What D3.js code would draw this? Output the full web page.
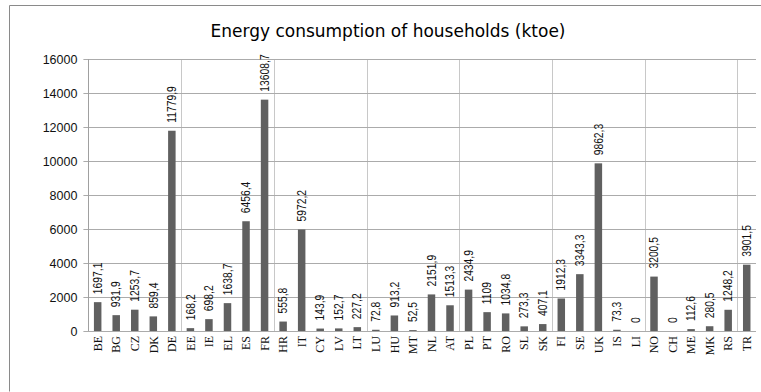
<html>
<head>
<script src="https://cdn.jsdelivr.net/npm/d3@7/dist/d3.min.js"></script>
<style>
  body { margin: 0; background: #fff; }
  .title { font-family: "DejaVu Sans", sans-serif; font-size: 17px; }
  .ylab { font-family: "Liberation Sans", sans-serif; font-size: 12.5px; fill: #111; }
  .xlab { font-family: "Liberation Serif", serif; font-size: 12px; fill: #111; }
  .vlab { font-family: "Liberation Sans", sans-serif; font-size: 12px; fill: #111; }
</style>
</head>
<body>
<svg id="chart"></svg>
<script>
// categories (country codes) and household consumption in ktoe
var countries = ["BE","BG","CZ","DK","DE","EE","IE","EL","ES","FR","HR","IT","CY","LV","LT","LU","HU","MT",
                 "NL","AT","PL","PT","RO","SL","SK","FI","SE","UK","IS","LI","NO","CH","ME","MK","RS","TR"];
var consumption = [1697.1, 931.9, 1253.7, 859.4, 11779.9, 168.2, 698.2, 1638.7, 6456.4, 13608.7, 555.8, 5972.2,
                   143.9, 152.7, 227.2, 72.8, 913.2, 52.5, 2151.9, 1513.3, 2434.9, 1109, 1034.8, 273.3, 407.1,
                   1912.3, 3343.3, 9862.3, 73.3, 0, 3200.5, 0, 112.6, 280.5, 1248.2, 3901.5];
var yTicks = [0, 2000, 4000, 6000, 8000, 10000, 12000, 14000, 16000];

var W = 761, H = 392;
// plot area edges
var pL = 88.4, pR = 756, pT = 59, pB = 331;

var svg = d3.select("#chart").attr("width", W).attr("height", H);

// outer frame
svg.append("path")
   .attr("d", "M9.5,391.5 V5.5 H761")
   .attr("fill", "none").attr("stroke", "#8a8a8a");

svg.append("text")
   .attr("class", "title")
   .attr("x", 388).attr("y", 37)
   .attr("text-anchor", "middle")
   .text("Energy consumption of households (ktoe)");

var x = d3.scaleBand().domain(countries).range([pL, pR]);
var y = d3.scaleLinear().domain([0, 16000]).range([pB, pT]);

// vertical grid every five categories
var vg = countries.filter(function (d, i) { return i > 0 && i % 5 === 0; });
svg.append("g").selectAll("line").data(vg).enter().append("line")
   .attr("x1", function (d) { return Math.round(x(d)) + 0.5; })
   .attr("x2", function (d) { return Math.round(x(d)) + 0.5; })
   .attr("y1", pT).attr("y2", pB)
   .attr("stroke", "#c8c8c8");

// horizontal grid + y axis
var yAxis = d3.axisLeft(y).tickValues(yTicks).tickSize(-(pR - pL + 5)).tickFormat(d3.format("d"));
var gy = svg.append("g")
   .attr("transform", "translate(" + (pL - 5) + ",0)")
   .call(yAxis);
gy.select(".domain").remove();
gy.selectAll(".tick line").attr("stroke", "#ababab");
gy.selectAll(".tick text").attr("class", "ylab").attr("x", -6).attr("dy", "0.35em");
svg.append("line")
   .attr("x1", Math.round(pL) + 0.5).attr("x2", Math.round(pL) + 0.5)
   .attr("y1", pT).attr("y2", pB)
   .attr("stroke", "#a0a0a0");

// bars
var bw = 7.5;
svg.append("g").selectAll("rect").data(consumption).enter().append("rect")
   .attr("x", function (d, i) { return x(countries[i]) + x.bandwidth() / 2 - bw / 2; })
   .attr("y", function (d) { return y(d); })
   .attr("width", bw)
   .attr("height", function (d) { return pB - y(d); })
   .attr("fill", "#606060");

// value labels (narrowed, like the original condensed face)
svg.append("g").selectAll("text").data(consumption).enter().append("text")
   .attr("class", "vlab")
   .attr("transform", function (d, i) {
       return "translate(" + (x(countries[i]) + x.bandwidth() / 2) + "," + (y(d) - 8) + ") rotate(-90) scale(0.86,1)";
   })
   .attr("dy", "0.35em")
   .text(function (d) { return String(d).replace(".", ","); });

// category labels
svg.append("g").selectAll("text").data(countries).enter().append("text")
   .attr("class", "xlab")
   .attr("text-anchor", "end")
   .attr("transform", function (d) {
       return "translate(" + (x(d) + x.bandwidth() / 2) + "," + (pB + 5) + ") rotate(-90)";
   })
   .attr("dy", "0.35em")
   .text(function (d) { return d; });
</script>
</body>
</html>
